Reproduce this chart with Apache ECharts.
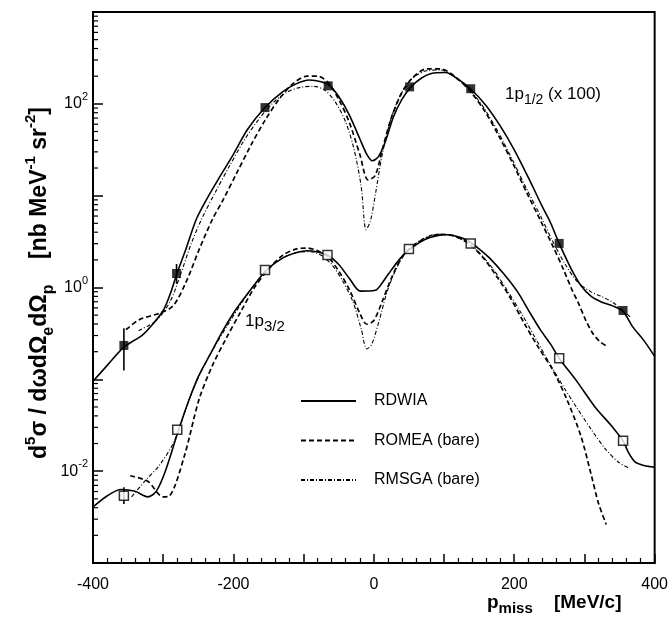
<!DOCTYPE html>
<html><head><meta charset="utf-8">
<script src="https://cdn.jsdelivr.net/npm/echarts@6/dist/echarts.min.js"></script>
<style>html,body{margin:0;padding:0;background:#fff}#c{width:671px;height:630px}</style>
</head><body><div id="c"></div>
<script>
// ---- axis / tick data ----
const xLabelValues = [-400, -200, 0, 200, 400];
const yLabelExponents = [-2, 0, 2];
const minorMantissas = [2, 3, 4, 5, 6, 7, 8, 9];
const decadeBases = [0.001, 0.01, 0.1, 1, 10, 100];

// ---- curves: 1p1/2 (x 100) ----
const rdwia12 = [[-400,0.0955],[-380,0.141],[-356,0.224],[-330,0.302],[-315,0.398],[-300,0.562],[-290,0.851],[-281,1.38],[-268,2.57],[-253,5.50],[-239,8.91],[-220,15.8],[-200,28.2],[-180,52.5],[-155,91.2],[-130,135],[-110,166],[-92,182],[-75,174],[-63,158],[-50,120],[-35,75.9],[-20,41.7],[-10,28.2],[-2,24.0],[6,26.3],[16,38.0],[28,72.4],[40,112],[53,153],[68,191],[82,214],[102,219],[120,186],[138,145],[160,95.5],[180,57.5],[200,31.6],[220,15.8],[240,7.59],[252,5.01],[264,3.02],[280,1.66],[295,1.05],[310,0.794],[325,0.692],[340,0.631],[355,0.550],[368,0.380],[384,0.269],[400,0.178]];
const romea12 = [[-353,0.347],[-334,0.447],[-305,0.525],[-286,0.631],[-268,1.12],[-249,2.57],[-230,5.50],[-215,8.91],[-195,17.8],[-175,35.5],[-155,66.1],[-135,112],[-115,166],[-95,200],[-80,200],[-65,170],[-50,112],[-35,63.1],[-20,28.2],[-8,14.8],[2,16.6],[12,31.6],[25,70.8],[40,132],[55,191],[75,240],[95,240],[115,200],[138,135],[158,83.2],[178,44.7],[198,22.4],[218,10.7],[238,5.25],[255,2.82],[270,1.58],[282,0.955],[292,0.661],[302,0.437],[312,0.316],[322,0.257],[332,0.229]];
const rmsga12 = [[-335,0.339],[-310,0.437],[-290,0.708],[-275,1.41],[-260,3.02],[-245,5.62],[-225,11.2],[-205,21.4],[-185,39.8],[-165,66.1],[-145,100],[-125,132],[-105,151],[-85,155],[-70,141],[-55,105],[-40,63.1],[-28,31.6],[-18,12.6],[-11,4.27],[-5,5.25],[3,11.2],[12,28.2],[25,70.8],[40,135],[55,191],[75,229],[95,234],[115,195],[138,138],[158,87.1],[178,47.9],[198,24.0],[218,11.7],[238,5.89],[255,3.16],[272,1.82],[290,1.15],[310,0.891],[325,0.794],[340,0.692],[355,0.562],[365,0.479]];

// ---- curves: 1p3/2 ----
const rdwia32 = [[-400,0.00407],[-380,0.00537],[-360,0.00631],[-340,0.00603],[-322,0.00525],[-310,0.00603],[-297,0.0100],[-278,0.0282],[-263,0.0603],[-250,0.107],[-234,0.182],[-215,0.339],[-200,0.525],[-185,0.759],[-170,1.07],[-153,1.55],[-130,2.09],[-110,2.40],[-95,2.51],[-80,2.43],[-66,2.26],[-50,1.78],[-35,1.26],[-19,0.912],[2,0.933],[10,1.07],[21,1.41],[38,2.09],[52,2.63],[72,3.31],[90,3.67],[105,3.76],[125,3.47],[138,3.09],[150,2.63],[165,2.09],[185,1.41],[205,0.891],[222,0.537],[238,0.339],[252,0.240],[264,0.170],[290,0.0933],[315,0.0501],[340,0.0302],[355,0.0214],[363,0.0158],[372,0.0126],[385,0.0115],[400,0.0110]];
const romea32 = [[-347,0.00891],[-322,0.00776],[-300,0.00525],[-291,0.00537],[-270,0.0145],[-249,0.0603],[-230,0.141],[-210,0.282],[-190,0.537],[-170,1.00],[-150,1.58],[-130,2.24],[-110,2.63],[-95,2.69],[-80,2.51],[-65,2.14],[-50,1.51],[-35,0.955],[-20,0.525],[-10,0.398],[0,0.437],[12,0.708],[25,1.26],[40,2.14],[55,2.82],[75,3.47],[95,3.80],[115,3.63],[135,3.02],[155,2.14],[175,1.32],[195,0.759],[215,0.398],[235,0.219],[255,0.126],[275,0.0603],[295,0.0240],[310,0.00891],[320,0.00447],[331,0.00263]];
const rmsga32 = [[-345,0.00525],[-324,0.00813],[-305,0.0117],[-284,0.0214],[-263,0.0603],[-245,0.126],[-225,0.240],[-205,0.427],[-185,0.741],[-165,1.20],[-145,1.74],[-125,2.19],[-105,2.43],[-90,2.45],[-75,2.24],[-60,1.78],[-45,1.20],[-30,0.708],[-18,0.355],[-10,0.214],[-3,0.240],[8,0.447],[20,0.955],[35,1.78],[50,2.63],[70,3.39],[90,3.80],[110,3.72],[130,3.16],[150,2.40],[170,1.58],[190,0.933],[210,0.525],[230,0.282],[250,0.151],[270,0.0832],[290,0.0479],[310,0.0282],[330,0.0174],[348,0.0126],[365,0.0107]];

// ---- measured points ----
const data12 = [[-356,0.234],[-281,1.42],[-155,91],[-65,157],[51,153],[138,146],[264,3.02],[355,0.562]];
const data32 = [[-356,0.0054],[-280,0.0282],[-155,1.55],[-66,2.26],[50,2.63],[138,3.02],[264,0.170],[355,0.0214]];
const errBars = [[-356,0.125,0.36],[-281,1.10,1.80],[-356,0.0044,0.0067]];

const FONT = '"Liberation Sans", Arial, Helvetica, sans-serif';
const minorTickVals = [];
decadeBases.forEach(d => minorMantissas.forEach(m => minorTickVals.push([-400, m * d])));

const chart = echarts.init(document.getElementById('c'), null, {renderer: 'canvas'});

const S_RD = {color: '#000', width: 1.6, type: 'solid'};
const S_RO = {color: '#000', width: 1.7, type: [5, 3]};
const S_RM = {color: '#000', width: 1.1, type: [4, 2, 1, 2]};
function lineSeries(name, data, ls) {
  return {type: 'line', name, data, symbol: 'none', smooth: 0.3, lineStyle: ls, itemStyle: {color: '#000'}, silent: true, z: 3};
}

const supRich = {
  n: {fontSize: 16, fontFamily: FONT, color: '#000', lineHeight: 25},
  s: {fontSize: 11, fontFamily: FONT, color: '#000', lineHeight: 11, verticalAlign: 'top'}
};

chart.setOption({
  animation: false,
  backgroundColor: '#fff',
  grid: {left: 93, right: 15, top: 12, bottom: 67, show: true, borderColor: '#000', borderWidth: 2, backgroundColor: 'transparent'},
  legend: {
    data: ['RDWIA', 'ROMEA (bare)', 'RMSGA (bare)'],
    orient: 'vertical', left: 295, top: 388, itemWidth: 55, itemHeight: 14, itemGap: 23.5,
    itemStyle: {opacity: 0},
    textStyle: {fontSize: 16, fontFamily: FONT, color: '#000', padding: [0, 0, 0, 13]},
    selectedMode: false
  },
  xAxis: {
    type: 'value', min: -400, max: 400, interval: 100,
    axisLine: {onZero: false, lineStyle: {color: '#000', width: 2}},
    axisTick: {inside: true, length: 9, lineStyle: {color: '#000', width: 1.5}},
    minorTick: {show: true, splitNumber: 5, length: 5, lineStyle: {color: '#000', width: 1.2}},
    axisLabel: {fontSize: 16, fontFamily: FONT, color: '#000', margin: 14,
      formatter: v => (xLabelValues.indexOf(v) >= 0 ? String(v) : '')},
    splitLine: {show: false}
  },
  yAxis: {
    type: 'log', logBase: 10, min: 0.001, max: 1000, interval: 1, splitNumber: 6,
    axisLine: {onZero: false, lineStyle: {color: '#000', width: 2}},
    axisTick: {inside: true, length: 10, lineStyle: {color: '#000', width: 1.5}},
    minorTick: {show: false},
    axisLabel: {margin: 5, rich: supRich,
      formatter: v => {
        const e = Math.round(Math.log10(v));
        return yLabelExponents.indexOf(e) >= 0 ? '{n|10}{s|' + e + '}' : '';
      }},
    splitLine: {show: false}
  },
  series: [
    lineSeries('RDWIA', rdwia12, S_RD),
    lineSeries('ROMEA (bare)', romea12, S_RO),
    lineSeries('RMSGA (bare)', rmsga12, S_RM),
    lineSeries('RDWIA', rdwia32, S_RD),
    lineSeries('ROMEA (bare)', romea32, S_RO),
    lineSeries('RMSGA (bare)', rmsga32, S_RM),
    {type: 'custom', name: 'err', data: errBars, encode: {x: 0, y: [1, 2]}, silent: true, z: 4,
      renderItem: (params, api) => {
        const a = api.coord([api.value(0), api.value(1)]);
        const b = api.coord([api.value(0), api.value(2)]);
        return {type: 'line', shape: {x1: a[0], y1: a[1], x2: b[0], y2: b[1]}, style: {stroke: '#000', lineWidth: 1.6}};
      }},
    {type: 'scatter', name: 'pts12', data: data12, symbol: 'rect', symbolSize: 9, itemStyle: {color: '#000'}, silent: true, z: 5},
    {type: 'scatter', name: 'pts32', data: data32, symbol: 'rect', symbolSize: 9, itemStyle: {color: '#fff', borderColor: '#000', borderWidth: 1.5}, silent: true, z: 5},
    {type: 'custom', name: 'yminor', data: minorTickVals, encode: {x: 0, y: 1}, silent: true, clip: false, z: 6,
      renderItem: (params, api) => {
        const p = api.coord([api.value(0), api.value(1)]);
        return {type: 'line', shape: {x1: p[0], y1: p[1], x2: p[0] + 5, y2: p[1]}, style: {stroke: '#000', lineWidth: 1.2}};
      }}
  ],
  graphic: [
    {type: 'text', x: 40, y: 283, rotation: Math.PI / 2, silent: true,
      style: {
        text: '{b|d}{bs|5}{b|σ / dωdΩ}{bsub|e}{b|dΩ}{bsub|p}{b|    [nb MeV}{bs|-1}{b| sr}{bs|-2}{b|]}',
        align: 'center', verticalAlign: 'middle',
        rich: {
          b: {fontSize: 23, fontWeight: 'bold', fontFamily: FONT, fill: '#000', lineHeight: 33},
          bs: {fontSize: 15, fontWeight: 'bold', fontFamily: FONT, fill: '#000', lineHeight: 15, verticalAlign: 'top'},
          bsub: {fontSize: 16, fontWeight: 'bold', fontFamily: FONT, fill: '#000', lineHeight: 16, verticalAlign: 'bottom'}
        }
      }},
    {type: 'text', left: 487, top: 593, silent: true,
      style: {
        text: '{b|p}{bsub|miss}{b|    [MeV/c]}',
        rich: {
          b: {fontSize: 19, fontWeight: 'bold', fontFamily: FONT, fill: '#000', lineHeight: 28},
          bsub: {fontSize: 15, fontWeight: 'bold', fontFamily: FONT, fill: '#000', lineHeight: 15, verticalAlign: 'bottom'}
        }
      }},
    {type: 'text', left: 505, top: 86, silent: true,
      style: {
        text: '{n|1p}{sub|1/2}{n| (x 100)}',
        rich: {
          n: {fontSize: 17, fontFamily: FONT, fill: '#000', lineHeight: 26},
          sub: {fontSize: 14, fontFamily: FONT, fill: '#000', lineHeight: 14, verticalAlign: 'bottom'}
        }
      }},
    {type: 'text', left: 245, top: 313, silent: true,
      style: {
        text: '{n|1p}{sub|3/2}',
        rich: {
          n: {fontSize: 17, fontFamily: FONT, fill: '#000', lineHeight: 26},
          sub: {fontSize: 15, fontFamily: FONT, fill: '#000', lineHeight: 15, verticalAlign: 'bottom'}
        }
      }}
  ]
});
</script></body></html>
